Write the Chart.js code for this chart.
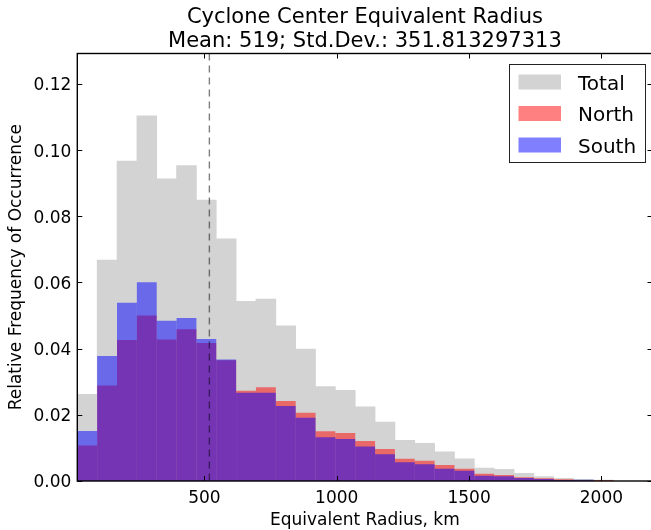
<!DOCTYPE html>
<html>
<head>
<meta charset="utf-8">
<script src="https://cdn.jsdelivr.net/npm/chart.js@4.4.1/dist/chart.umd.min.js"></script>
<style>
  html, body { margin: 0; padding: 0; overflow: hidden; background: #fff; }
  canvas { display: block; }
</style>
</head>
<body>
<canvas id="chart" width="656" height="530"></canvas>
<script>
// histogram bins, 75 km wide, centre of each bin in km
const binCenters = [57.5, 132.5, 207.5, 282.5, 357.5, 432.5, 507.5, 582.5, 657.5, 732.5,
    807.5, 882.5, 957.5, 1032.5, 1107.5, 1182.5, 1257.5, 1332.5, 1407.5, 1482.5,
    1557.5, 1632.5, 1707.5, 1782.5, 1857.5, 1932.5, 2007.5]

const totalFreq = [0.0262, 0.0668, 0.0967, 0.1104, 0.0913, 0.0953, 0.0849, 0.0732, 0.0543, 0.0550,
    0.0469, 0.0399, 0.0285, 0.0274, 0.0224, 0.0178, 0.0123, 0.0114, 0.0088, 0.0067,
    0.0039, 0.0035, 0.0023, 0.0013, 0.0008, 0.0005, 0.0003]

const northFreq = [0.0107, 0.0289, 0.0426, 0.0500, 0.0428, 0.0459, 0.0417, 0.0365, 0.0273, 0.0283,
    0.0242, 0.0206, 0.0150, 0.0145, 0.0121, 0.0097, 0.0067, 0.0061, 0.0048, 0.0037,
    0.0022, 0.0018, 0.0011, 0.0008, 0.0005, 0.0002, 0.0003]

const southFreq = [0.0151, 0.0378, 0.0539, 0.0601, 0.0484, 0.0493, 0.0429, 0.0367, 0.0267, 0.0267,
    0.0227, 0.0191, 0.0132, 0.0127, 0.0104, 0.0081, 0.0057, 0.0051, 0.0037, 0.0031,
    0.0016, 0.0014, 0.0009, 0.0006, 0.0003, 0.0004, 0]

const meanRadius = 519
const stdRadius = 351.813297313

const xTicks = [500, 1000, 1500, 2000]
const yTicks = [0, 0.02, 0.04, 0.06, 0.08, 0.10, 0.12]

const FONT = '"DejaVu Sans", sans-serif'

const toPoints = vals => vals.map((v, i) => ({x: binCenters[i], y: v}))

// frame, inward ticks, mean line, legend and titles in the old matplotlib look
const decorations = {
    id: 'decorations',
    afterDatasetsDraw(chart) {
        const {ctx, chartArea: a, scales: {x, y}} = chart
        ctx.save()

        const mx = x.getPixelForValue(meanRadius)
        ctx.strokeStyle = 'rgba(0,0,0,0.5)'
        ctx.lineWidth = 1.4
        ctx.setLineDash([7, 5])
        ctx.beginPath()
        ctx.moveTo(mx, a.top)
        ctx.lineTo(mx, a.bottom)
        ctx.stroke()
        ctx.setLineDash([])

        ctx.strokeStyle = '#000'
        ctx.lineWidth = 1
        ctx.beginPath()
        xTicks.forEach(v => {
            const px = Math.round(x.getPixelForValue(v)) + 0.5
            ctx.moveTo(px, a.bottom); ctx.lineTo(px, a.bottom - 5)
            ctx.moveTo(px, a.top); ctx.lineTo(px, a.top + 5)
        })
        yTicks.forEach(v => {
            const py = Math.round(y.getPixelForValue(v)) + 0.5
            ctx.moveTo(a.left, py); ctx.lineTo(a.left + 5, py)
            ctx.moveTo(a.right, py); ctx.lineTo(a.right - 5, py)
        })
        ctx.stroke()

        ctx.lineWidth = 1.4
        ctx.strokeRect(a.left, a.top, a.right - a.left, a.bottom - a.top)

        // legend box
        ctx.fillStyle = '#fff'
        ctx.fillRect(509.5, 64.5, 136, 98)
        ctx.strokeStyle = '#222'
        ctx.lineWidth = 1
        ctx.strokeRect(509.5, 64.5, 136, 98)
        const swatches = ['#d3d3d3', 'rgb(255,128,128)', 'rgb(128,128,255)']
        ctx.font = '20px ' + FONT
        ctx.textBaseline = 'alphabetic'
        ctx.textAlign = 'left'
        chart.data.datasets.forEach((ds, i) => {
            const top = 74.5 + i * 31.5
            ctx.fillStyle = swatches[i]
            ctx.fillRect(518.5, top, 42.5, 15)
            ctx.fillStyle = '#000'
            ctx.fillText(ds.label, 578, top + 15)
        })

        ctx.restore()
    },
    afterDraw(chart) {
        const {ctx, chartArea: a} = chart
        const cx = (a.left + a.right) / 2
        ctx.save()
        ctx.fillStyle = '#000'
        ctx.textAlign = 'center'
        ctx.textBaseline = 'alphabetic'
        ctx.font = '21px ' + FONT
        ctx.fillText('Cyclone Center Equivalent Radius', cx, 22.5)
        ctx.fillText('Mean: ' + meanRadius + '; Std.Dev.: ' + stdRadius, cx, 46.5)

        ctx.font = '17px ' + FONT
        ctx.fillText('Equivalent Radius, km', cx, 525)

        ctx.translate(21, (a.top + a.bottom) / 2)
        ctx.rotate(-Math.PI / 2)
        ctx.fillText('Relative Frequency of Occurrence', 0, 0)
        ctx.restore()
    }
}

const ctx = document.getElementById('chart').getContext('2d')

new Chart(ctx, {
    type: 'bar',
    data: {
        datasets: [
            {
                label: 'Total',
                data: toPoints(totalFreq),
                backgroundColor: '#d3d3d3',
                order: 3,
            },
            {
                label: 'North',
                data: toPoints(northFreq),
                backgroundColor: 'rgba(255,0,0,0.5)',
                inflateAmount: 0,
                order: 2,
            },
            {
                label: 'South',
                data: toPoints(southFreq),
                backgroundColor: 'rgba(0,0,255,0.5)',
                inflateAmount: 0,
                order: 1,
            },
        ],
    },
    options: {
        responsive: false,
        animation: false,
        devicePixelRatio: 1,
        layout: {padding: {top: 53.5, right: 3.5, left: 0, bottom: 0}},
        datasets: {
            bar: {
                grouped: false,
                barPercentage: 1,
                categoryPercentage: 1,
                borderWidth: 0,
            },
        },
        plugins: {
            legend: {display: false},
            tooltip: {enabled: false},
        },
        scales: {
            x: {
                type: 'linear',
                min: 20,
                max: 2193,
                offset: false,
                grid: {display: false, drawTicks: false},
                border: {display: false},
                afterBuildTicks: s => { s.ticks = xTicks.map(v => ({value: v})) },
                afterFit: s => { s.height = 49 },
                ticks: {
                    color: '#000',
                    padding: 7,
                    maxRotation: 0,
                    font: {family: FONT, size: 17},
                    callback: v => String(v),
                },
            },
            y: {
                min: 0,
                max: 0.1292,
                grid: {display: false, drawTicks: false},
                border: {display: false},
                afterBuildTicks: s => { s.ticks = yTicks.map(v => ({value: v})) },
                afterFit: s => { s.width = 77.3 },
                ticks: {
                    color: '#000',
                    padding: 6,
                    labelOffset: 2,
                    font: {family: FONT, size: 17},
                    callback: v => v.toFixed(2),
                },
            },
        },
    },
    plugins: [decorations],
})
</script>
</body>
</html>
